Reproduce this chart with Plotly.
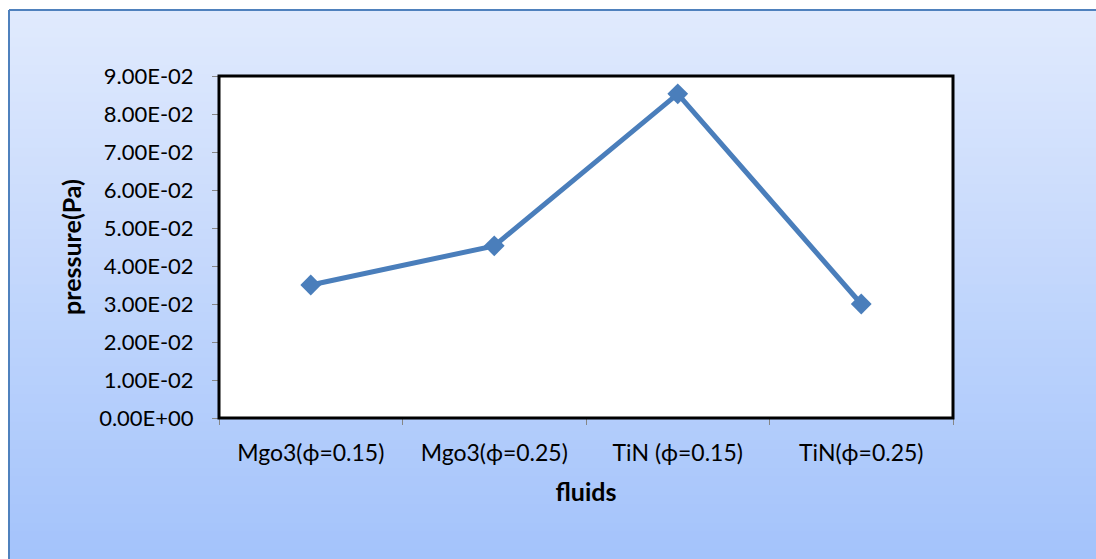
import plotly.graph_objects as go

# Data
fluids = ["Mgo3(\u03d5=0.15)", "Mgo3(\u03d5=0.25)", "TiN (\u03d5=0.15)", "TiN(\u03d5=0.25)"]
pressure = [0.035, 0.0453, 0.0853, 0.030]
y_tick_vals = [0.00, 0.01, 0.02, 0.03, 0.04, 0.05, 0.06, 0.07, 0.08, 0.09]
y_tick_text = ["0.00E+00", "1.00E-02", "2.00E-02", "3.00E-02", "4.00E-02",
               "5.00E-02", "6.00E-02", "7.00E-02", "8.00E-02", "9.00E-02"]

W, H = 1096, 559
L, R, T, B = 219, 953, 76, 418  # plot area in pixels


def px_x(p):
    return (p - L) / (R - L)


def px_y(p):
    return (B - p) / (B - T)


FONT = "Lato"

shapes = []
# vertical gradient background inside the outer frame
top_c = (224, 234, 253)
bot_c = (164, 195, 251)
y_start, y_end = 10, H
n = 60
for i in range(n):
    f = i / (n - 1)
    c = tuple(round(top_c[k] + (bot_c[k] - top_c[k]) * f) for k in range(3))
    y0 = y_start + (y_end - y_start) * i / n
    y1 = min(y_start + (y_end - y_start) * (i + 1) / n + 1, H)
    shapes.append(dict(type="rect", xref="paper", yref="paper", layer="below",
                       x0=px_x(9), x1=px_x(W), y0=px_y(y1), y1=px_y(y0),
                       line=dict(width=0), fillcolor="rgb(%d,%d,%d)" % c))
# outer frame edges
shapes.append(dict(type="line", xref="paper", yref="paper", layer="below",
                   x0=px_x(9), x1=px_x(W), y0=px_y(10), y1=px_y(10),
                   line=dict(color="#4f81bd", width=2)))
shapes.append(dict(type="line", xref="paper", yref="paper", layer="below",
                   x0=px_x(9), x1=px_x(9), y0=px_y(10), y1=px_y(H),
                   line=dict(color="#4f81bd", width=2)))
# plot area
shapes.append(dict(type="rect", xref="paper", yref="paper", layer="below",
                   x0=0, x1=1, y0=0, y1=1, line=dict(width=0), fillcolor="white"))
shapes.append(dict(type="rect", xref="paper", yref="paper", layer="above",
                   x0=0, x1=1, y0=0, y1=1, line=dict(color="black", width=3)))

fig = go.Figure()
fig.add_trace(go.Scatter(
    x=fluids, y=pressure, mode="lines+markers",
    line=dict(color="#4a7ebb", width=5),
    marker=dict(symbol="diamond", size=16, color="#4a7ebb"),
    showlegend=False, cliponaxis=False,
))

fig.update_layout(
    width=W, height=H,
    margin=dict(l=L, r=W - R, t=T, b=H - B),
    paper_bgcolor="white", plot_bgcolor="rgba(0,0,0,0)",
    shapes=shapes,
    font=dict(family=FONT, size=22, color="black"),
    xaxis=dict(
        type="category", range=[-0.5, 3.5], tickson="boundaries",
        ticks="outside", ticklen=6, tickcolor="#868686", tickwidth=1,
        showgrid=False, zeroline=False, showline=False,
        ticklabelstandoff=19,
        tickfont=dict(family=FONT, size=23),
        title=dict(text="<b>fluids</b>", font=dict(family=FONT, size=25), standoff=18),
    ),
    yaxis=dict(
        range=[0, 0.09], tickvals=y_tick_vals, ticktext=y_tick_text,
        ticks="outside", ticklen=6, tickcolor="#868686", tickwidth=1,
        showgrid=False, zeroline=False, showline=False,
        ticklabelstandoff=14,
        tickfont=dict(family=FONT, size=22),
        title=dict(text="<b>pressure(Pa)</b>", font=dict(family=FONT, size=25), standoff=10),
    ),
)

fig.write_html("out.html")
